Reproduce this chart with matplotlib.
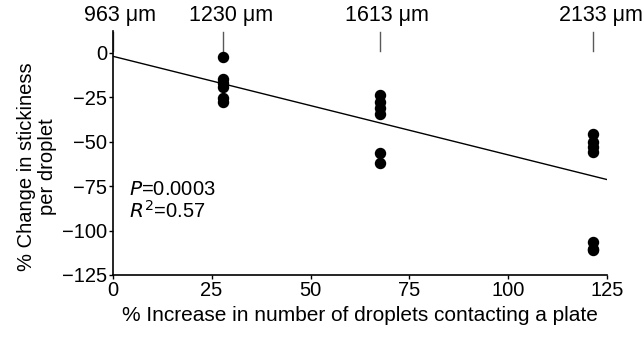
import numpy as np
import matplotlib
matplotlib.use("Agg")
import matplotlib.pyplot as plt

plt.rcParams['font.family'] = ['Liberation Sans', 'DejaVu Sans']

# data
x_28 = [28] * 6
y_28 = [-2.5, -15, -17, -19.5, -25.5, -27.5]
x_68 = [67.5] * 6
y_68 = [-24, -27.5, -31, -34.5, -56.5, -62]
x_122 = [121.5] * 7
y_122 = [-46, -50, -53, -56, -106.5, -110.5, -111]

fit_intercept = -2.0
fit_slope = -0.555

size_pos = [0, 28, 67.5, 121.5]
size_labels = ['963 μm', '1230 μm', '1613 μm', '2133 μm']

xs = np.array(x_28 + x_68 + x_122)
ys = np.array(y_28 + y_68 + y_122)

fs = 14.5

fig = plt.figure(figsize=(6.44, 3.37), dpi=100)
ax = fig.add_axes([0.175, 0.184, 0.768, 0.723])

# size markers on top
for xp, lab in zip(size_pos, size_labels):
    ax.plot([xp, xp], [1, 11.5], color='0.35', lw=1, clip_on=False)
    ax.annotate(lab, (xp, 15), xytext=(5.5, 0), textcoords='offset points',
                ha='center', va='bottom', fontsize=15.5, annotation_clip=False)

ax.scatter(xs, ys, s=52, color='black', zorder=3, clip_on=False)

xl = np.array([0, 125])
ax.plot(xl, fit_intercept + fit_slope * xl, color='black', lw=1)

ax.text(4, -77, '$P$=0.0003', fontsize=fs, va='center')
ax.text(4, -89, '$R^2$=0.57', fontsize=fs, va='center')

ax.set_xlim(0, 125)
ax.set_ylim(-125, 12)
ax.set_xticks([0, 25, 50, 75, 100, 125])
ax.set_yticks([0, -25, -50, -75, -100, -125])
ax.set_yticklabels(['0', '\u221225', '\u221250', '\u221275', '\u2212100', '\u2212125'])
ax.tick_params(labelsize=fs, length=3, width=1, pad=1)
for s in ['top', 'right']:
    ax.spines[s].set_visible(False)
ax.spines['left'].set_linewidth(1.2)
ax.spines['bottom'].set_linewidth(1.2)

ax.set_xlabel('% Increase in number of droplets contacting a plate', fontsize=15, labelpad=5)
ax.set_ylabel('% Change in stickiness\nper droplet', fontsize=14.5, linespacing=1.15)
ax.yaxis.set_label_coords(-0.112, 0.445)

fig.savefig('out.png', dpi=100)
